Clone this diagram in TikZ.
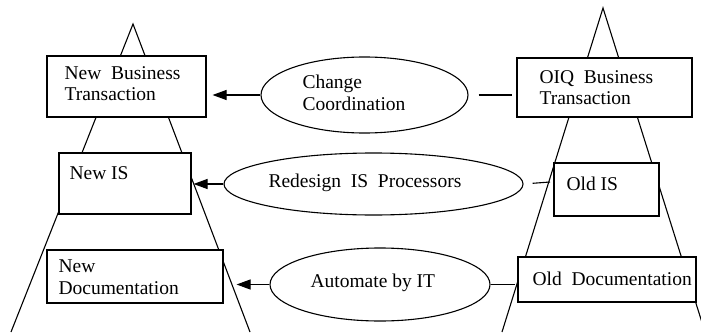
\documentclass[tikz,border=0pt]{standalone}
\usepackage{fontspec}
\setmainfont{Liberation Serif}
\usetikzlibrary{arrows.meta,shapes.geometric}
\begin{document}
\begin{tikzpicture}[x=1pt,y=-1pt,line width=1.1pt,
  boxnode/.style={draw,fill=white,rectangle,inner sep=0pt},
  ovalnode/.style={draw,fill=white,ellipse,inner sep=0pt},
  txt/.style={anchor=base west,inner sep=0pt,font=\fontsize{19.5}{22}\selectfont},
  arr/.style={-{Triangle[length=14pt,width=10pt]}}]
\useasboundingbox (0,0) rectangle (701,332);
\clip (0,0) rectangle (701,332);
% triangles
\draw (11,332) -- (133,24) -- (250,332);
\draw (502,332) -- (603,8) -- (705,332);
% boxes
\node[boxnode,minimum width=159pt,minimum height=61pt] (b1) at (126.5,86.5) {};
\node[boxnode,minimum width=132pt,minimum height=61pt] (b2) at (125,183.5) {};
\node[boxnode,minimum width=176pt,minimum height=53pt] (b3) at (135,276.5) {};
\node[boxnode,minimum width=175pt,minimum height=59pt] (b4) at (604.5,87.5) {};
\node[boxnode,minimum width=105pt,minimum height=53pt] (b5) at (606.5,189.5) {};
\node[boxnode,minimum width=178pt,minimum height=45pt] (b6) at (607,279.5) {};
% ellipses
\node[ovalnode,minimum width=207pt,minimum height=76pt] (e1) at (364.5,95) {};
\node[ovalnode,minimum width=299pt,minimum height=62pt] (e2) at (373.5,184) {};
\node[ovalnode,minimum width=220pt,minimum height=73pt] (e3) at (380,284.5) {};
% texts
\node[txt] (t1a) at (64,79) {New\ \ Business};
\node[txt] (t1b) at (64,100) {Transaction};
\node[txt] (t2) at (69,179) {New IS};
\node[txt] (t3a) at (58,272) {New};
\node[txt] (t3b) at (58,294) {Documentation};
\node[txt] (t4a) at (539,83) {OIQ\ \ Business};
\node[txt] (t4b) at (539,104) {Transaction};
\node[txt] (t5) at (566,190) {Old IS};
\node[txt] (t6) at (532,285) {Old\ \ Documentation};
\node[txt] (te1a) at (302,88) {Change};
\node[txt] (te1b) at (302,110) {Coordination};
\node[txt] (te2) at (268,187) {Redesign\ \ IS\ \ Processors};
\node[txt] (te3) at (310,287) {Automate by IT};
% connectors
\coordinate (c2) at (550,182);
\draw[arr,shorten >=6pt] (e1.west) -- (e1.west -| b1.east);
\draw[arr,shorten >=2pt] (e2.west) -- (e2.west -| b2.east);
\draw[arr,shorten >=13pt] (e3.west) -- (e3.west -| b3.east);
\draw[shorten <=10pt,shorten >=4pt] (e1.east) -- (e1.east -| b4.west);
\draw[shorten <=9pt] (e2.east) -- (c2);
\draw[shorten >=2pt] (e3.east) -- (e3.east -| b6.west);
\end{tikzpicture}
\end{document}
